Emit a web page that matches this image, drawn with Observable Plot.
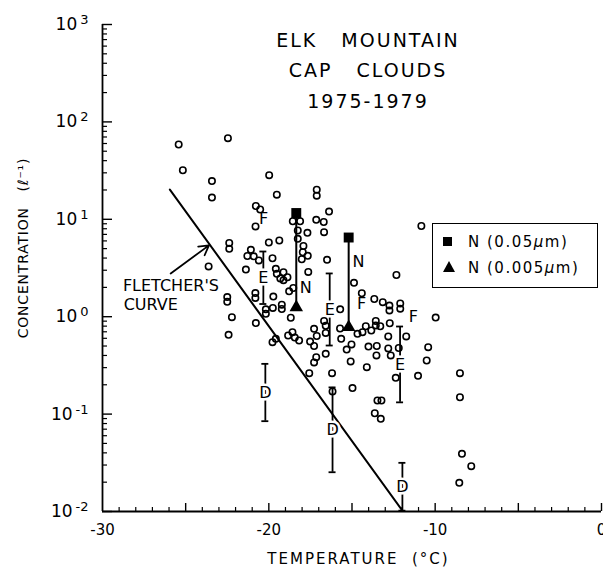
<!DOCTYPE html>
<html><head><meta charset="utf-8">
<script src="https://cdn.jsdelivr.net/npm/d3@7"></script>
<script src="https://cdn.jsdelivr.net/npm/@observablehq/plot@0.6"></script>
<style>
body{margin:0;background:#fff;}
#wrap{position:relative;width:603px;height:572px;font-family:"DejaVu Sans",sans-serif;color:#000;}
#legend{position:absolute;left:432px;top:223px;width:164px;height:63px;border:1.6px solid #000;background:#fff;font-size:15px;letter-spacing:1.5px;}
#legend .row{position:absolute;left:10px;height:20px;line-height:20px;white-space:nowrap;}
#legend .sq{display:inline-block;width:9px;height:9px;background:#000;margin-right:16px;vertical-align:middle;position:relative;top:-1px;}
#legend .tri{display:inline-block;width:0;height:0;border-left:6px solid transparent;border-right:6px solid transparent;border-bottom:11px solid #000;margin-right:13px;vertical-align:middle;position:relative;top:-2px;}
</style></head><body><div id="wrap"></div>
<script>
// ---- observed ice nuclei concentrations (circles) ----
const obsTemp = [-25.42,-22.46,-25.17,-23.42,-23.42,-19.98,-19.52,-20.78,-20.52,-17.12,-17.12,-16.38,
 -20.80,-18.56,-18.12,-17.15,-16.70,-18.26,-17.68,-16.68,-18.26,-22.38,-22.38,-20.00,-19.37,-17.92,
 -21.08,-21.29,-20.91,-20.60,-19.78,-17.96,-18.02,-17.66,-16.50,-23.62,-21.38,-19.58,-19.52,-19.12,
 -18.88,-19.12,-19.31,-17.63,-18.78,-18.53,-20.81,-20.81,-19.73,-22.50,-22.50,-20.18,-19.76,-19.22,
 -19.22,-22.22,-18.68,-20.78,-22.42,-20.18,-19.78,-19.58,-18.84,-18.58,-18.44,-18.18,-17.52,-17.28,
 -17.28,-17.12,-16.68,-16.58,-16.58,-16.58,-17.15,-17.28,-17.57,-16.20,-15.71,-15.65,-15.72,-15.32,
 -15.03,-15.08,-14.88,-14.41,-12.33,-13.66,-13.15,-12.75,-12.75,-12.10,-12.10,-9.97,-14.67,-14.37,
 -14.17,-13.84,-13.57,-13.57,-13.30,-12.73,-11.74,-12.82,-14.01,-13.51,-12.82,-12.67,-12.19,-10.42,
 -10.51,-13.53,-14.11,-12.37,-11.03,-14.97,-13.47,-13.23,-13.63,-13.27,-10.83,-8.51,-8.51,-8.39,
 -7.83,-8.55,-16.17];
const obsConc = [58.6,68.0,31.9,24.7,16.7,28.4,17.9,13.7,12.6,20.1,17.5,12.0,
 8.44,9.55,9.55,9.88,9.38,7.67,7.27,7.38,6.31,5.71,4.98,5.78,6.06,5.32,
 4.86,4.20,4.17,3.78,3.98,4.59,3.89,4.22,3.84,3.28,3.05,3.10,2.76,2.86,
 2.54,2.37,2.47,2.88,1.82,1.97,1.75,1.56,1.61,1.59,1.42,1.19,1.23,1.33,
 1.20,0.99,0.975,0.861,0.652,1.07,0.547,0.593,0.641,0.693,0.611,0.570,0.556,0.751,
 0.500,0.634,0.904,0.807,0.681,0.416,0.384,0.339,0.263,0.263,1.19,0.593,0.757,0.460,
 0.519,0.347,2.23,1.74,2.68,1.52,1.41,1.30,1.16,1.37,1.21,0.98,0.667,0.693,
 0.798,0.722,0.904,0.813,0.798,0.857,0.627,0.627,0.494,0.500,0.472,0.400,0.477,0.486,
 0.355,0.400,0.303,0.236,0.247,0.185,0.138,0.138,0.102,0.0895,8.54,0.263,0.149,0.0391,
 0.0292,0.0197,0.171];

// ---- N measurements: 0.05 um (squares) and 0.005 um (triangles) ----
const nTemp = [-18.35, -15.2];
const nConc005 = [11.6, 6.5];
const nConc0005 = [1.25, 0.78];
const nLabelTemp = [-17.78, -14.61];
const nLabelConc = [2.0, 3.63];

// ---- range bars labelled D / E ----
const barTemp = [-20.33, -16.34, -12.11, -20.21, -16.17, -11.97];
const barHi = [4.67, 2.78, 0.793, 0.328, 0.188, 0.0316];
const barLo = [1.35, 0.506, 0.132, 0.0846, 0.0253, 0.0102];
const barLabel = ["E", "E", "E", "D", "D", "D"];

// ---- F labels ----
const fTemp = [-20.32, -14.43, -11.31];
const fConc = [10.1, 1.36, 1.0];

// ---- Fletcher's curve ----
const fletcherTemp = [-25.95, -11.97];
const fletcherConc = [20.2, 0.0102];
const fletcherArrowTemp = [-25.9, -23.6];
const fletcherArrowConc = [2.78, 5.4];
const fletcherLabelTemp = [-23.0, -25.47];
const fletcherLabelConc = [2.09, 1.33];
const fletcherLabelText = ["FLETCHER'S", "CURVE"];

// ---- axes ----
const yTickValues = [0.01, 0.1, 1, 10, 100, 1000];
const yTickExponents = ["-2", "-1", "0", "1", "2", "3"];
const xTickValues = [-30, -20, -10, 0];
const xTickLabels = ["-30", "-20", "-10", "0"];
const titleLines = ["ELK   MOUNTAIN", "CAP   CLOUDS", "1975-1979"];
const xTitle = "TEMPERATURE  (\u00B0C)";
const yTitle = "CONCENTRATION   (\u2113\u207B\u00B9)";

// ---- build tables ----
const obs = obsTemp.map((t, i) => ({t, c: obsConc[i]}));
const nBars = nTemp.map((t, i) => ({t, big: nConc005[i], small: nConc0005[i], lt: nLabelTemp[i], lc: nLabelConc[i]}));
const bars = barTemp.map((t, i) => ({t, hi: barHi[i], lo: barLo[i], label: barLabel[i]}));
const fLabels = fTemp.map((t, i) => ({t, c: fConc[i]}));
const fletcher = fletcherTemp.map((t, i) => ({t, c: fletcherConc[i]}));
const fletcherText = fletcherLabelText.map((s, i) => ({t: fletcherLabelTemp[i], c: fletcherLabelConc[i], s}));
const yExpMap = new Map(yTickValues.map((v, i) => [v, yTickExponents[i]]));
const xLabelMap = new Map(xTickValues.map((v, i) => [v, xTickLabels[i]]));

const yMinor = [];
for (let e = -2; e < 3; e++) for (let k = 2; k <= 9; k++) yMinor.push(k * Math.pow(10, e));
const xMinor = d3.range(-29, 0, 1).filter(v => v % 5 !== 0);
const xMajor = d3.range(-25, 1, 5);

const W = 603, H = 572, mL = 102, mR = 2, mT = 24, mB = 61;
const fw = W - mL - mR, fh = H - mT - mB;
const FONT = "DejaVu Sans, sans-serif";

const chart = Plot.plot({
  width: W, height: H,
  marginLeft: mL, marginRight: mR, marginTop: mT, marginBottom: mB,
  style: {fontFamily: FONT, fontSize: "15px", color: "#000", background: "#fff", overflow: "visible"},
  x: {domain: [-30, 0], label: null},
  y: {type: "log", domain: [0.01, 1000], label: null},
  marks: [
    Plot.tickY(yMinor, {stroke: "#000", strokeWidth: 1.2, insetRight: fw - 5}),
    Plot.tickY(yTickValues, {stroke: "#000", strokeWidth: 1.4, insetRight: fw - 10}),
    Plot.tickX(xMinor, {stroke: "#000", strokeWidth: 1.2, insetTop: fh - 4}),
    Plot.tickX(xMajor, {stroke: "#000", strokeWidth: 1.4, insetTop: fh - 8}),
    Plot.ruleX([-30], {stroke: "#000", strokeWidth: 1.8}),
    Plot.ruleY([0.01], {stroke: "#000", strokeWidth: 1.8}),
    Plot.axisY({ticks: yTickValues, tickFormat: d => "10" + yExpMap.get(d), tickSize: 0, tickPadding: 14, fontSize: 17, label: null}),
    Plot.axisX({ticks: xTickValues, tickFormat: d => xLabelMap.get(d), tickSize: 0, tickPadding: 13, fontSize: 15, label: null}),
    // Fletcher's curve
    Plot.line(fletcher, {x: "t", y: "c", stroke: "#000", strokeWidth: 2}),
    Plot.arrow([0], {x1: () => fletcherArrowTemp[0], y1: () => fletcherArrowConc[0], x2: () => fletcherArrowTemp[1], y2: () => fletcherArrowConc[1], stroke: "#000", strokeWidth: 1.8, headLength: 9}),
    Plot.text(fletcherText, {x: "t", y: "c", text: "s", textAnchor: "end", fontSize: 16, style: "letter-spacing:1.5px"}),
    // range bars
    Plot.ruleX(bars, {x: "t", y1: "lo", y2: "hi", stroke: "#000", strokeWidth: 1.8}),
    Plot.ruleY(bars, {y: "hi", x1: "t", x2: "t", insetLeft: -3.5, insetRight: -3.5, stroke: "#000", strokeWidth: 1.8}),
    Plot.ruleY(bars, {y: "lo", x1: "t", x2: "t", insetLeft: -3.5, insetRight: -3.5, stroke: "#000", strokeWidth: 1.8}),
    Plot.text(bars, {x: "t", y: d => Math.sqrt(d.hi * d.lo), text: "label", fontSize: 16, fill: "#000", stroke: "#fff", strokeWidth: 5}),
    // N bars
    Plot.ruleX(nBars, {x: "t", y1: "small", y2: "big", stroke: "#000", strokeWidth: 2}),
    Plot.text(nBars, {x: "lt", y: "lc", text: () => "N", fontSize: 16, fill: "#000"}),
    // F labels
    Plot.text(fLabels, {x: "t", y: "c", text: () => "F", fontSize: 16, fill: "#000"}),
    // circles
    Plot.dot(obs, {x: "t", y: "c", r: 3.2, stroke: "#000", strokeWidth: 1.6, fill: "none"}),
    Plot.dot(nBars, {x: "t", y: "big", symbol: "square", r: 5.6, fill: "#000", stroke: "none"}),
    Plot.dot(nBars, {x: "t", y: "small", symbol: "triangle", r: 5, fill: "#000", stroke: "none"})
  ]
});

document.getElementById("wrap").appendChild(chart);
const svg = d3.select(chart);

// raise the decade exponents as superscripts
svg.selectAll('g[aria-label="y-axis tick label"] text').each(function () {
  const s = this.textContent;
  const exp = s.slice(2);
  const t = d3.select(this);
  t.text("10");
  t.append("tspan").attr("dy", "-0.45em").attr("dx", "3").attr("font-size", 13).text(exp);
});

// title and axis titles
const tg = svg.append("g").attr("font-family", FONT).attr("fill", "#000").attr("text-anchor", "middle");
const titleX = mL + 266, titleY = [mT + 23, mT + 53, mT + 84];
titleLines.forEach((s, i) => tg.append("text").attr("x", titleX).attr("y", titleY[i]).attr("font-size", 19).style("letter-spacing", "2px").style("white-space", "pre").attr("xml:space", "preserve").text(s));
tg.append("text").attr("x", mL + fw / 2 + 7).attr("y", H - 8).attr("font-size", 15).style("letter-spacing", "2px").attr("xml:space", "preserve").text(xTitle);
tg.append("text").attr("transform", `translate(28,${mT + 224}) rotate(-90)`).attr("font-size", 14).style("letter-spacing", "0.8px").attr("xml:space", "preserve").text(yTitle);

const lg = document.createElement("div");
lg.id = "legend";
lg.innerHTML = '<div class="row" style="top:8px"><span class="sq"></span>N (0.05<i style="font-style:italic">\u03BC</i>m)</div>' +
               '<div class="row" style="top:34px"><span class="tri"></span>N (0.005<i style="font-style:italic">\u03BC</i>m)</div>';
document.getElementById("wrap").appendChild(lg);
</script>
</body></html>
